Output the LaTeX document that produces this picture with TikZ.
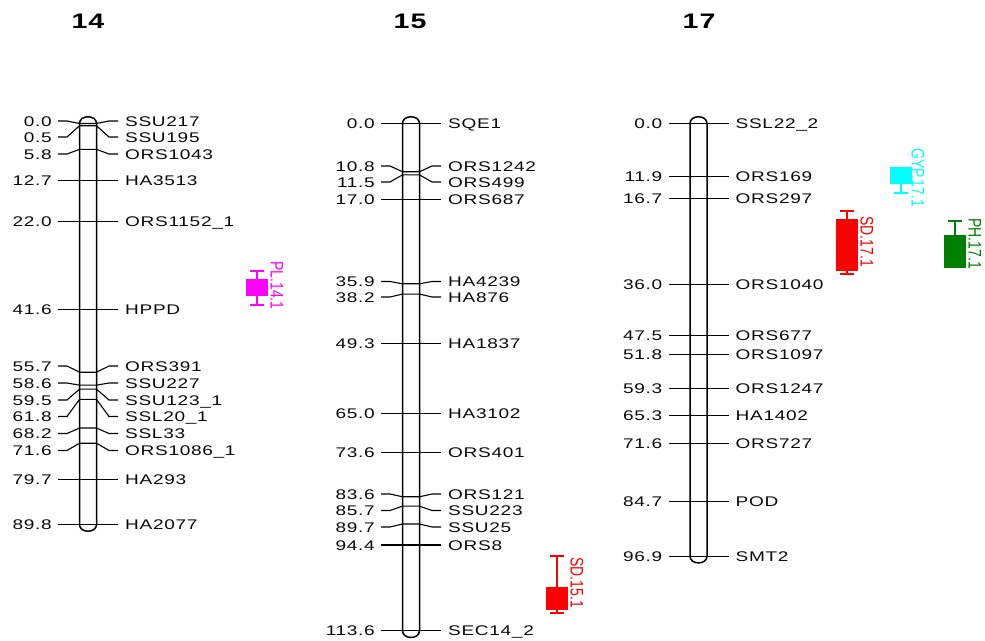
\documentclass[tikz,border=0pt]{standalone}
\usepackage{fontspec}
\setmainfont{Liberation Sans}
\newfontfamily\mkfont{Liberation Sans}[FakeStretch=1.36,LetterSpace=5]
\newfontfamily\qfont{Liberation Sans}
\definecolor{qmag}{RGB}{255,0,255}
\definecolor{qred}{RGB}{255,0,0}
\definecolor{qcyan}{RGB}{0,255,255}
\definecolor{qgreen}{RGB}{0,128,0}
\definecolor{txt}{RGB}{10,10,10}
\tikzset{
  chrom/.style={draw=black,line width=1.5pt,fill=white},
  tickln/.style={draw=black,line width=1.1pt},
  lab/.style={font=\mkfont\fontsize{14}{14}\selectfont,inner sep=0pt,text height=10pt,text depth=0pt,text=txt},
  ttl/.style={font=\mkfont\bfseries\fontsize{21}{21}\selectfont,inner sep=0pt,text=black},
  qlab/.style={font=\qfont\fontsize{14}{14}\selectfont,inner sep=0pt,text height=13pt,text depth=0pt,rotate=-90,anchor=west},
  qln/.style={line width=1.2pt}
}
\newcommand\chromo[3]{% id, x, max cM
  \pgfmathsetmacro\yend{123.5+4.465*#3}
  \draw[chrom] ({#2-8.5},123.5) -- ({#2-8.5},\yend)
    .. controls ({#2-8.5},{\yend+9}) and ({#2+8.5},{\yend+9}) .. ({#2+8.5},\yend)
    -- ({#2+8.5},123.5)
    .. controls ({#2+8.5},114.5) and ({#2-8.5},114.5) .. ({#2-8.5},123.5) -- cycle;
  \coordinate (#1) at (#2,123.5);
}
\newcommand\mrk[6]{% x, cM, label y, number, name, id
  \pgfmathsetmacro\ya{123.5+4.465*#2}
  \draw[tickln] ({#1-30},#3) -- ({#1-21},#3) -- ({#1-8.5},\ya) -- ({#1+8.5},\ya) -- ({#1+21},#3) -- ({#1+30},#3);
  \node[lab,anchor=east] (v#6) at ({#1-36},#3) {#4};
  \node[lab,anchor=west] (m#6) at ({#1+37},#3) {#5};
}
\newcommand\smrk[5]{% x, cM, number, name, id
  \pgfmathsetmacro\yb{123.5+4.465*#2}
  \mrk{#1}{#2}{\yb}{#3}{#4}{#5}
}
\newcommand\qtl[9]{% color, x, whisker top, box top, box bottom, whisker bottom, label, label x, label top
  \draw[qln,draw=#1] (#2,#3) -- (#2,#6);
  \draw[qln,draw=#1] ({#2-7},#3) -- ({#2+7},#3);
  \draw[qln,draw=#1] ({#2-7},#6) -- ({#2+7},#6);
  \filldraw[qln,draw=#1,fill=#1] ({#2-10},#4) rectangle ({#2+10},#5);
  \node[qlab,text=#1] at (#8,#9) {\scalebox{1}[1.3]{#7}};
}
\begin{document}
\begin{tikzpicture}[x=1pt,y=-1pt]
\fill[white] (0,0) rectangle (985,640);
\useasboundingbox (0,0) rectangle (985,640);

% titles
\node[ttl] (t14) at (88,21) {14};
\node[ttl] (t15) at (410,21) {15};
\node[ttl] (t17) at (699,21) {17};

% chromosomes
\chromo{c14}{88}{89.8}
\chromo{c15}{411}{113.6}
\chromo{c17}{698.5}{96.9}

% chromosome 14
\mrk{88}{0.0}{121}{0.0}{SSU217}{a1}
\mrk{88}{0.5}{137}{0.5}{SSU195}{a2}
\mrk{88}{5.8}{154}{5.8}{ORS1043}{a3}
\smrk{88}{12.7}{12.7}{HA3513}{a4}
\smrk{88}{22.0}{22.0}{ORS1152\_1}{a5}
\smrk{88}{41.6}{41.6}{HPPD}{a6}
\mrk{88}{55.7}{366}{55.7}{ORS391}{a7}
\mrk{88}{58.6}{383}{58.6}{SSU227}{a8}
\mrk{88}{59.5}{400}{59.5}{SSU123\_1}{a9}
\mrk{88}{61.8}{416.5}{61.8}{SSL20\_1}{a10}
\mrk{88}{68.2}{433.5}{68.2}{SSL33}{a11}
\mrk{88}{71.6}{450.5}{71.6}{ORS1086\_1}{a12}
\smrk{88}{79.7}{79.7}{HA293}{a13}
\smrk{88}{89.8}{89.8}{HA2077}{a14}

% chromosome 15
\smrk{411}{0.0}{0.0}{SQE1}{b1}
\mrk{411}{10.8}{166}{10.8}{ORS1242}{b2}
\mrk{411}{11.5}{182}{11.5}{ORS499}{b3}
\smrk{411}{17.0}{17.0}{ORS687}{b4}
\mrk{411}{35.9}{281.5}{35.9}{HA4239}{b5}
\mrk{411}{38.2}{297}{38.2}{HA876}{b6}
\smrk{411}{49.3}{49.3}{HA1837}{b7}
\smrk{411}{65.0}{65.0}{HA3102}{b8}
\smrk{411}{73.6}{73.6}{ORS401}{b9}
\mrk{411}{83.6}{494}{83.6}{ORS121}{b10}
\mrk{411}{85.7}{510.5}{85.7}{SSU223}{b11}
\mrk{411}{89.7}{527}{89.7}{SSU25}{b12}
\smrk{411}{94.4}{94.4}{ORS8}{b13}
\smrk{411}{113.6}{113.6}{SEC14\_2}{b14}

% chromosome 17
\smrk{698.5}{0.0}{0.0}{SSL22\_2}{c1}
\smrk{698.5}{11.9}{11.9}{ORS169}{c2}
\smrk{698.5}{16.7}{16.7}{ORS297}{c3}
\smrk{698.5}{36.0}{36.0}{ORS1040}{c4}
\smrk{698.5}{47.5}{47.5}{ORS677}{c5}
\smrk{698.5}{51.8}{51.8}{ORS1097}{c6}
\smrk{698.5}{59.3}{59.3}{ORS1247}{c7}
\smrk{698.5}{65.3}{65.3}{HA1402}{c8}
\smrk{698.5}{71.6}{71.6}{ORS727}{c9}
\smrk{698.5}{84.7}{84.7}{POD}{c10}
\smrk{698.5}{96.9}{96.9}{SMT2}{c11}

% QTL
\qtl{qmag}{257}{271}{280}{295}{305}{PL.14.1}{277}{261}
\qtl{qred}{557}{556}{588}{609}{613}{SD.15.1}{577}{557}
\qtl{qcyan}{901}{168}{168}{183}{193}{GYP.17.1}{918}{148}
\qtl{qred}{847}{211}{220}{270}{274}{SD.17.1}{867}{216}
\qtl{qgreen}{955}{221}{236}{267}{267}{PH.17.1}{975}{218}
\end{tikzpicture}
\end{document}
